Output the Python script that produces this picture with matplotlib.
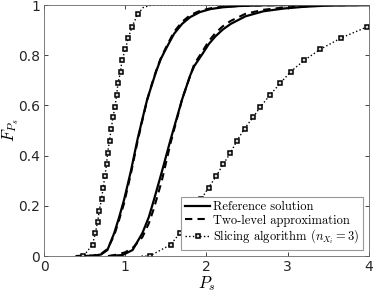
import matplotlib
matplotlib.use('Agg')
import matplotlib.pyplot as plt
from matplotlib.ticker import FuncFormatter

plt.rcParams['mathtext.fontset'] = 'cm'

# reference solution (two curves)
ref1_x = [0.40, 0.60, 0.70, 0.78, 0.863, 0.92, 0.985, 1.07, 1.15, 1.21, 1.27, 1.33, 1.38, 1.436,
          1.50, 1.60, 1.70, 1.80, 1.92, 2.05, 2.20, 2.40, 2.70, 3.00, 4.00]
ref1_y = [0.0, 0.001, 0.006, 0.024, 0.091, 0.15, 0.224, 0.34, 0.464, 0.545, 0.624, 0.685, 0.735, 0.784,
          0.825, 0.885, 0.925, 0.952, 0.972, 0.984, 0.991, 0.996, 0.999, 1.0, 1.0]
ref2_x = [0.80, 0.966, 1.09, 1.21, 1.29, 1.353, 1.45, 1.558, 1.63, 1.70, 1.80, 1.85, 1.95, 2.03, 2.11,
          2.20, 2.30, 2.48, 2.70, 2.95, 3.20, 3.50, 4.00]
ref2_y = [0.0, 0.004, 0.024, 0.091, 0.155, 0.224, 0.335, 0.464, 0.545, 0.624, 0.72, 0.757, 0.805, 0.845, 0.875,
          0.902, 0.925, 0.955, 0.975, 0.986, 0.993, 0.998, 1.0]

# two-level approximation
two1_x = [0.40, 0.60, 0.70, 0.78, 0.863, 0.92, 0.985, 1.07, 1.15, 1.21, 1.27, 1.33, 1.38, 1.436,
          1.50, 1.60, 1.70, 1.80, 1.92, 2.05, 2.20, 2.50, 3.00, 4.00]
two1_y = [0.0, 0.002, 0.008, 0.028, 0.082, 0.14, 0.21, 0.33, 0.455, 0.54, 0.622, 0.688, 0.738, 0.787,
          0.83, 0.893, 0.933, 0.96, 0.977, 0.987, 0.993, 0.998, 1.0, 1.0]
two2_x = [0.80, 0.90, 1.00, 1.10, 1.21, 1.29, 1.353, 1.45, 1.558, 1.70, 1.85, 1.95, 2.03, 2.11, 2.20,
          2.30, 2.48, 2.70, 2.95, 3.50, 4.00]
two2_y = [0.0, 0.006, 0.015, 0.035, 0.075, 0.13, 0.19, 0.30, 0.45, 0.625, 0.765, 0.815, 0.857, 0.888, 0.915,
          0.937, 0.965, 0.981, 0.99, 0.999, 1.0]

# slicing algorithm, n_Xi = 3 (line through the markers plus its tails)
slc_p = [0.0, 0.045, 0.09, 0.135, 0.18, 0.227, 0.273, 0.32, 0.365, 0.41, 0.46,
         0.508, 0.552, 0.595, 0.641, 0.688, 0.735, 0.78, 0.823, 0.869, 0.913, 0.963]
slc1_x = [0.485, 0.596, 0.63, 0.658, 0.679, 0.707, 0.728, 0.749, 0.769, 0.781, 0.806,
          0.827, 0.848, 0.873, 0.893, 0.91, 0.942, 0.959, 1.0, 1.037, 1.083, 1.152]
slc2_x = [1.30, 1.558, 1.669, 1.76, 1.85, 1.935, 2.028, 2.123, 2.205, 2.294, 2.377,
          2.47, 2.573, 2.666, 2.782, 2.908, 3.039, 3.206, 3.399, 3.66, 3.98, 4.40]
slc1_tail_x = [1.22, 1.30, 1.38, 4.0]
slc1_tail_y = [0.99, 0.998, 1.0, 1.0]

fig = plt.figure(figsize=(3.74, 2.96), dpi=100)
ax = fig.add_axes([0.118, 0.135, 0.868, 0.848])

ax.plot(ref1_x, ref1_y, '-', color='black', lw=1.6, label='Reference solution')
ax.plot(ref2_x, ref2_y, '-', color='black', lw=1.6)
ax.plot(two1_x, two1_y, '--', color='black', lw=1.5, dashes=(3.5, 2.5),
        label='Two-level approximation')
ax.plot(two2_x, two2_y, '--', color='black', lw=1.5, dashes=(3.5, 2.5))

mk = dict(color='black', lw=1.0, ls=':', marker='s', ms=3.0, mfc='0.85', mec='black', mew=1.1)
x1 = [0.40] + slc1_x + slc1_tail_x
y1 = [0.0] + slc_p + slc1_tail_y
ax.plot(x1, y1, markevery=list(range(1, len(slc1_x) + 1)),
        label=r'Slicing algorithm ($n_{X_i}=3$)', **mk)
ax.plot([1.2] + slc2_x, [0.0] + slc_p, markevery=list(range(1, len(slc2_x) + 1)), **mk)

ax.set_xlim(0, 4)
ax.set_ylim(0, 1)
ax.set_xticks([0, 1, 2, 3, 4])
ax.set_yticks([0, 0.2, 0.4, 0.6, 0.8, 1])
ax.yaxis.set_major_formatter(FuncFormatter(lambda v, p: '%g' % v))
ax.tick_params(direction='in', top=True, right=True, length=3, width=0.6,
               labelsize=10, colors='0.15', pad=3)
for s in ax.spines.values():
    s.set_linewidth(0.6)
    s.set_color('0.4')

ax.set_xlabel(r'$P_s$', fontsize=12, labelpad=0)
ax.set_ylabel(r'$F_{P_s}$', fontsize=12)
ax.yaxis.set_label_coords(-0.072, 0.5)

leg = ax.legend(loc='lower right', handlelength=2.0, handletextpad=0.2,
                labelspacing=0.1, borderpad=0.3, borderaxespad=0.5, fancybox=False,
                framealpha=1, edgecolor='0.6', prop={'family': 'cmr10', 'size': 9})
leg.get_frame().set_linewidth(0.8)

fig.savefig('out.png', dpi=100)
